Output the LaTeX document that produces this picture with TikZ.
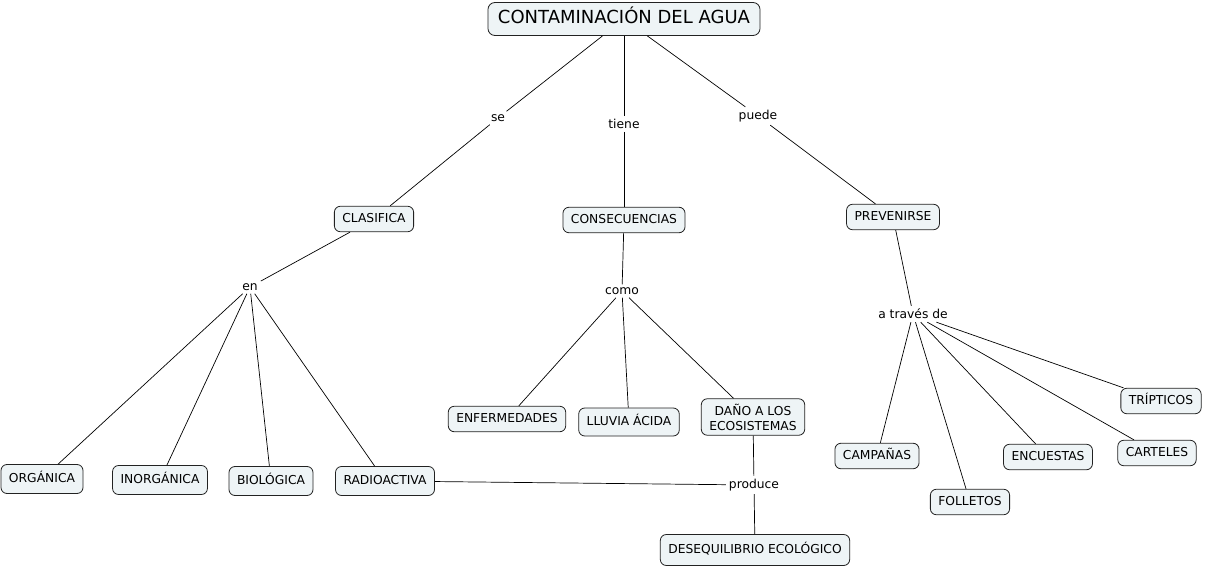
\documentclass[tikz,border=0pt]{standalone}
\usepackage{fontspec}
\setmainfont{DejaVu Sans}
\definecolor{boxfill}{HTML}{EEF4F6}
\definecolor{boxline}{HTML}{222222}
\tikzset{
  concept/.style={draw=boxline, line width=0.8pt, fill=boxfill, rounded corners=6pt,
    font=\fontsize{12.3}{14.5}\selectfont, inner xsep=8pt, inner ysep=7pt,
    text height=9pt, text depth=2.5pt, align=center},
  tallbox/.style={concept, minimum height=29pt},
  titlebox/.style={concept, font=\fontsize{18}{21}\selectfont, inner xsep=10pt, inner ysep=8pt,
    text height=13pt, text depth=4pt, rounded corners=7pt},
  lbl/.style={font=\fontsize{12.3}{14.5}\selectfont, inner sep=3pt},
  link/.style={draw=black, line width=0.7pt}
}
\begin{document}
\begin{tikzpicture}[x=1pt,y=-1pt]
\useasboundingbox (0,0) rectangle (1205,567);
\node[titlebox] (t) at (624,19) {CONTAMINACIÓN DEL AGUA};
\node[lbl] (se) at (498,118) {se};
\node[lbl] (tiene) at (624,124) {tiene};
\node[lbl] (puede) at (758,116) {puede};
\node[concept] (clas) at (374,219) {CLASIFICA};
\node[concept] (cons) at (624,220) {CONSECUENCIAS};
\node[concept] (prev) at (893,217) {PREVENIRSE};
\node[lbl] (en) at (250,287) {en};
\node[lbl] (como) at (622,291) {como};
\node[lbl] (atraves) at (913,314) {a través de};
\node[tallbox] (org) at (42,479) {ORGÁNICA};
\node[tallbox] (inorg) at (160,480) {INORGÁNICA};
\node[tallbox] (bio) at (271,481) {BIOLÓGICA};
\node[tallbox] (radio) at (385,481) {RADIOACTIVA};
\node[concept] (enf) at (507,419) {ENFERMEDADES};
\node[concept, minimum height=28pt] (lluvia) at (629,422) {LLUVIA ÁCIDA};
\node[concept, inner ysep=5pt, font=\fontsize{12.3}{15}\selectfont, text height=, text depth=] (dano) at (753,417) {DAÑO A LOS\\ECOSISTEMAS};
\node[lbl] (produce) at (754,485) {produce};
\node[concept, minimum height=31pt] (deseq) at (755,550) {DESEQUILIBRIO ECOLÓGICO};
\node[concept] (camp) at (877,456) {CAMPAÑAS};
\node[concept] (foll) at (970,502) {FOLLETOS};
\node[concept] (encu) at (1048,457) {ENCUESTAS};
\node[concept] (cart) at (1157,453) {CARTELES};
\node[concept] (trip) at (1161,401) {TRÍPTICOS};
\draw[link] (t) -- (se);
\draw[link] (se) -- (clas);
\draw[link] (t) -- (tiene);
\draw[link] (tiene) -- (cons);
\draw[link] (t) -- (puede);
\draw[link] (puede) -- (prev);
\draw[link] (clas) -- (en);
\draw[link] (en) -- (org);
\draw[link] (en) -- (inorg);
\draw[link] (en) -- (bio);
\draw[link] (en) -- (radio);
\draw[link] (cons) -- (como);
\draw[link] (como) -- (enf);
\draw[link] (como) -- (lluvia);
\draw[link] (como) -- (dano);
\draw[link] (dano) -- (produce);
\draw[link] (radio) -- (produce);
\draw[link] (produce) -- (deseq);
\draw[link] (prev) -- (atraves);
\draw[link] (atraves) -- (camp);
\draw[link] (atraves) -- (foll);
\draw[link] (atraves) -- (encu);
\draw[link] (atraves) -- (cart);
\draw[link] (atraves) -- (trip);
\end{tikzpicture}
\end{document}
